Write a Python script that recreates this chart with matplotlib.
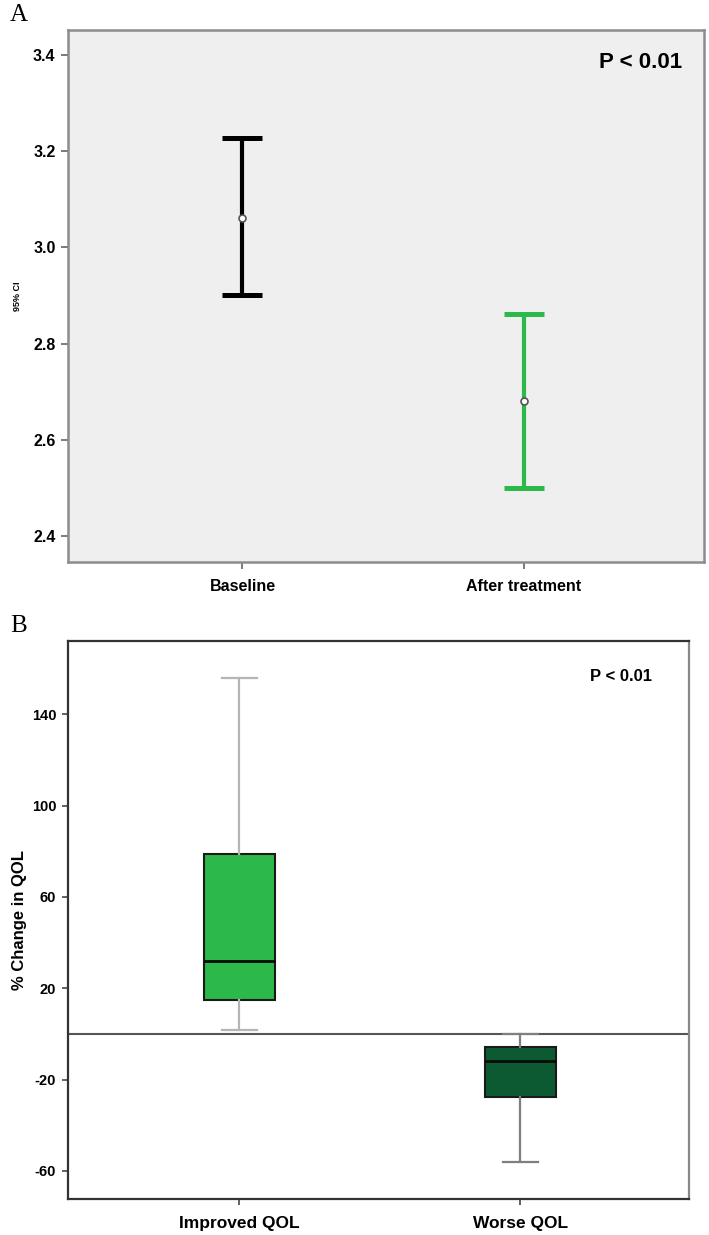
import numpy as np
import matplotlib.pyplot as plt

plt.rcParams['font.family'] = ['Liberation Sans', 'DejaVu Sans']
plt.rcParams['axes.unicode_minus'] = False

# panel A: mean and 95% CI
groups_a = ['Baseline', 'After treatment']
mean_a = [3.062, 2.681]
ci_low_a = [2.900, 2.500]
ci_high_a = [3.228, 2.862]
colors_a = ['#000000', '#2DB84A']

# panel B: % change in QOL boxplots
groups_b = ['Improved QOL', 'Worse QOL']
whislo_b = [1.6, -56.0]
q1_b = [14.7, -27.7]
med_b = [31.8, -12.0]
q3_b = [78.8, -5.8]
whishi_b = [156.0, 0.0]
box_colors_b = ['#2DB84A', '#0B5A32']
whisker_colors_b = ['#B5B5B5', '#7F7F7F']

fig = plt.figure(figsize=(7.09, 12.35), dpi=100)

# ---------------- panel A ----------------
axA = fig.add_axes([0.0959, 0.545, 0.897, 0.4307])
axA.set_facecolor('#EFEFEF')
xa = np.arange(len(groups_a))
for i in range(len(groups_a)):
    lo = mean_a[i] - ci_low_a[i]
    hi = ci_high_a[i] - mean_a[i]
    axA.errorbar(xa[i], mean_a[i], yerr=[[lo], [hi]], fmt='none',
                 ecolor=colors_a[i], elinewidth=3.0, capsize=14.5, capthick=3.6)
    axA.plot(xa[i], mean_a[i], 'o', ms=5, mfc='white', mec='#555555', mew=1.2, zorder=5)
axA.set_xlim(-0.62, 1.64)
axA.set_ylim(2.346, 3.452)
axA.set_yticks([2.4, 2.6, 2.8, 3.0, 3.2, 3.4])
axA.set_yticklabels(['2.4', '2.6', '2.8', '3.0', '3.2', '3.4'])
axA.set_xticks(xa)
axA.set_xticklabels(groups_a)
for lab in axA.get_xticklabels() + axA.get_yticklabels():
    lab.set_fontweight('bold')
    lab.set_fontsize(11.5)
axA.tick_params(axis='y', length=5, width=1.3, color='#707070', pad=4)
axA.tick_params(axis='x', length=5, width=1.3, color='#707070', pad=7)
for s in axA.spines.values():
    s.set_color('#8C8C8C')
    s.set_linewidth(1.8)
axA.set_ylabel('95% CI', fontsize=6.5, fontweight='bold')
axA.yaxis.set_label_coords(-0.072, 0.5)
axA.text(0.965, 0.938, 'P < 0.01', transform=axA.transAxes, ha='right', va='center',
         fontsize=16, fontweight='bold')
fig.text(0.014, 0.988, 'A', family='Liberation Serif', fontsize=18, va='center', ha='left')

# ---------------- panel B ----------------
axB = fig.add_axes([0.0959, 0.0291, 0.876, 0.4518])
stats = []
for i in range(len(groups_b)):
    stats.append({'whislo': whislo_b[i], 'q1': q1_b[i], 'med': med_b[i],
                  'q3': q3_b[i], 'whishi': whishi_b[i], 'fliers': []})
bp = axB.bxp(stats, positions=[0, 1], widths=0.25, capwidths=0.125, patch_artist=True,
             showfliers=False,
             boxprops=dict(edgecolor='#1A1A1A', linewidth=1.5),
             medianprops=dict(color='#0A0A0A', linewidth=2.0))
for i, box in enumerate(bp['boxes']):
    box.set_facecolor(box_colors_b[i])
    for ln in bp['whiskers'][2 * i:2 * i + 2] + bp['caps'][2 * i:2 * i + 2]:
        ln.set_color(whisker_colors_b[i])
        ln.set_linewidth(1.6)
axB.axhline(0, color='#555555', linewidth=1.5, zorder=1)
axB.set_xlim(-0.61, 1.6)
axB.set_ylim(-72.3, 172)
axB.set_yticks([-60, -20, 20, 60, 100, 140])
axB.set_xticks([0, 1])
axB.set_xticklabels(groups_b)
for lab in axB.get_xticklabels():
    lab.set_fontweight('bold')
    lab.set_fontsize(12.5)
for lab in axB.get_yticklabels():
    lab.set_fontweight('bold')
    lab.set_fontsize(10.5)
axB.tick_params(axis='y', length=4.5, width=1.3, color='#555555', pad=4)
axB.tick_params(axis='x', length=4.5, width=1.3, color='#555555', pad=8)
for s in axB.spines.values():
    s.set_color('#333333')
    s.set_linewidth(1.6)
axB.spines['right'].set_color('#888888')
axB.set_ylabel('% Change in QOL', fontsize=12, fontweight='bold')
axB.yaxis.set_label_coords(-0.066, 0.5)
axB.text(0.94, 0.937, 'P < 0.01', transform=axB.transAxes, ha='right', va='center',
         fontsize=12, fontweight='bold')
fig.text(0.014, 0.493, 'B', family='Liberation Serif', fontsize=18, va='center', ha='left')

fig.savefig('out.png', dpi=100)
